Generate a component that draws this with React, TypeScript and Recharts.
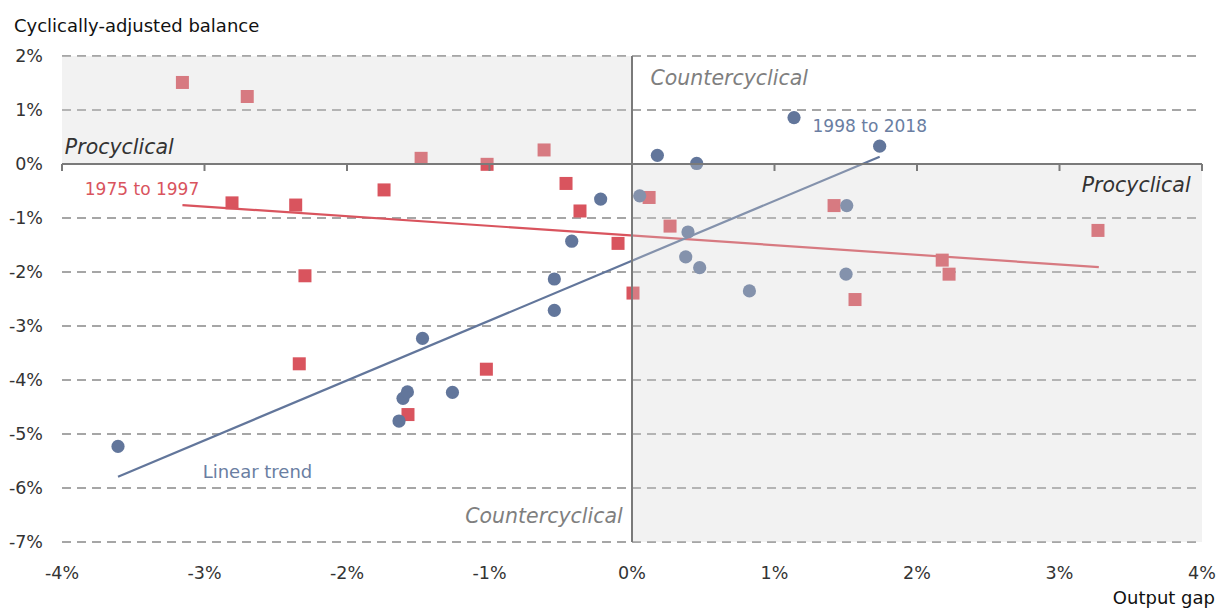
import {
  ScatterChart,
  Scatter,
  XAxis,
  YAxis,
  CartesianGrid,
  ReferenceArea,
  ReferenceLine,
  ReferenceDot,
} from 'recharts';

// 1975 to 1997 (red squares)
const earlyGap = [-3.155, -2.7, -1.48, -1.017, -0.617, -1.74, -2.807, -2.36, -0.463, -0.365, -0.098, -2.295, 0.007, 0.12, 0.267, -2.335, -1.022, -1.572, 1.418, 1.565, 2.177, 2.225, 3.27];
const earlyBalance = [1.51, 1.25, 0.105, -0.006, 0.26, -0.48, -0.72, -0.76, -0.36, -0.87, -1.47, -2.07, -2.39, -0.62, -1.15, -3.7, -3.8, -4.64, -0.77, -2.51, -1.78, -2.04, -1.23];

// 1998 to 2018 (blue circles)
const lateGap = [-3.607, -1.635, -1.607, -1.576, -1.26, -1.47, -0.545, -0.545, -0.423, -0.22, 0.178, 0.454, 1.137, 1.738, 0.054, 0.393, 0.377, 0.475, 0.824, 1.507, 1.502];
const lateBalance = [-5.23, -4.76, -4.34, -4.22, -4.23, -3.23, -2.71, -2.13, -1.43, -0.65, 0.16, 0.01, 0.86, 0.33, -0.59, -1.26, -1.72, -1.92, -2.35, -0.77, -2.04];

// linear trend end points
const earlyTrendGap = [-3.155, 3.276];
const earlyTrendBalance = [-0.76, -1.91];
const lateTrendGap = [-3.607, 1.738];
const lateTrendBalance = [-5.79, 0.135];

const xTicks = [-4, -3, -2, -1, 0, 1, 2, 3, 4];
const yTicks = [2, 1, 0, -1, -2, -3, -4, -5, -6, -7];

// text notes placed in data units
const notes = [
  { x: 0.13, y: 1.46, text: 'Countercyclical', anchor: 'start', color: '#7f7f7f', italic: true, size: 20.5 },
  { x: -3.98, y: 0.185, text: 'Procyclical', anchor: 'start', color: '#333333', italic: true, size: 20.5 },
  { x: 3.92, y: -0.51, text: 'Procyclical', anchor: 'end', color: '#333333', italic: true, size: 20.5 },
  { x: -0.065, y: -6.64, text: 'Countercyclical', anchor: 'end', color: '#7f7f7f', italic: true, size: 20.5 },
  { x: -3.84, y: -0.574, text: '1975 to 1997', anchor: 'start', color: '#d9545e', italic: false, size: 17 },
  { x: 1.267, y: 0.6, text: '1998 to 2018', anchor: 'start', color: '#6a7ea2', italic: false, size: 17 },
  { x: -3.013, y: -5.81, text: 'Linear trend', anchor: 'start', color: '#6a7ea2', italic: false, size: 18 },
];

const RED = '#d9545e';
const BLUE = '#62769b';
const FONT = '"DejaVu Sans", sans-serif';

const early = earlyGap.map((x, i) => ({ x, y: earlyBalance[i] }));
const late = lateGap.map((x, i) => ({ x, y: lateBalance[i] }));
const earlyTrend = earlyTrendGap.map((x, i) => ({ x, y: earlyTrendBalance[i] }));
const lateTrend = lateTrendGap.map((x, i) => ({ x, y: lateTrendBalance[i] }));

const pct = (v: number) => `${v}%`;

const Square = (p: any) => <rect x={p.cx - 6.5} y={p.cy - 6.5} width={13} height={13} fill={RED} />;
const Dot = (p: any) => <circle cx={p.cx} cy={p.cy} r={6.6} fill={BLUE} />;
const NoShape = () => <g />;

export default function App() {
  return (
    <div style={{ position: 'absolute', left: 0, top: 0, width: 1217, height: 610, fontFamily: FONT }}>
      <div style={{ position: 'absolute', left: 14, top: 17, fontSize: 18, lineHeight: '18px', color: '#111' }}>
        Cyclically-adjusted balance
      </div>
      <div style={{ position: 'absolute', right: 2, top: 589, fontSize: 18, lineHeight: '18px', color: '#111' }}>
        Output gap
      </div>
      <ScatterChart width={1217} height={610} margin={{ top: 56, right: 15, bottom: 38, left: 12 }}>
        <CartesianGrid vertical={false} stroke="#a6a6a6" strokeWidth={2} strokeDasharray="9 6" />
        <XAxis
          type="number"
          dataKey="x"
          domain={[-4, 4]}
          ticks={xTicks}
          tickFormatter={pct}
          axisLine={false}
          tickLine={false}
          tickSize={0}
          tickMargin={25}
          height={30}
          tick={{ fill: '#333', fontSize: 17.5, fontFamily: FONT }}
        />
        <YAxis
          type="number"
          dataKey="y"
          domain={[-7, 2]}
          ticks={yTicks}
          tickFormatter={pct}
          axisLine={false}
          tickLine={false}
          tickSize={0}
          tickMargin={19}
          width={50}
          tick={{ fill: '#333', fontSize: 17.5, fontFamily: FONT }}
        />
        <Scatter data={early} shape={Square} isAnimationActive={false} />
        <Scatter data={late} shape={Dot} isAnimationActive={false} />
        <Scatter data={earlyTrend} shape={NoShape} line={{ stroke: RED, strokeWidth: 2.2 }} isAnimationActive={false} />
        <Scatter data={lateTrend} shape={NoShape} line={{ stroke: BLUE, strokeWidth: 2.2 }} isAnimationActive={false} />
        <ReferenceArea x1={-4} x2={0} y1={0} y2={2} fill="#d4d4d4" fillOpacity={0.3} stroke="none" zIndex={700} />
        <ReferenceArea x1={0} x2={4} y1={-7} y2={0} fill="#d4d4d4" fillOpacity={0.3} stroke="none" zIndex={700} />
        <ReferenceLine y={0} stroke="#7a7a7a" strokeWidth={2} zIndex={800} />
        <ReferenceLine x={0} stroke="#7a7a7a" strokeWidth={2} zIndex={800} />
        {xTicks.map((t) => (
          <ReferenceLine
            key={`tk${t}`}
            segment={[{ x: t, y: 0 }, { x: t, y: -0.13 }]}
            stroke="#7a7a7a"
            strokeWidth={2}
            zIndex={800}
          />
        ))}
        {notes.map((n, i) => (
          <ReferenceDot
            key={`n${i}`}
            x={n.x}
            y={n.y}
            r={0}
            zIndex={900}
            shape={(p: any) => (
              <text
                x={p.cx}
                y={p.cy}
                textAnchor={n.anchor}
                fill={n.color}
                fontSize={n.size}
                fontStyle={n.italic ? 'italic' : 'normal'}
                fontFamily={FONT}
              >
                {n.text}
              </text>
            )}
          />
        ))}
      </ScatterChart>
    </div>
  );
}
